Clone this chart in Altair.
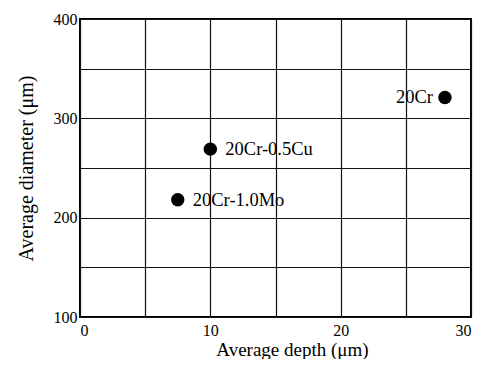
import altair as alt
import pandas as pd

alloys = ["20Cr", "20Cr-0.5Cu", "20Cr-1.0Mo"]
depth = [28.0, 10.0, 7.5]
diameter = [321, 269, 218]
label_side = ["left", "right", "right"]

df = pd.DataFrame({"alloy": alloys, "depth": depth, "diameter": diameter, "side": label_side})

FONT = "Liberation Serif"

xscale = alt.Scale(domain=[0, 30], nice=False, zero=False)
yscale = alt.Scale(domain=[100, 400], nice=False, zero=False)

xaxis = alt.Axis(values=[0, 5, 10, 15, 20, 25, 30],
                 labelExpr="datum.value % 10 == 0 ? datum.label : ''",
                 title="Average depth (μm)", grid=True, ticks=False,
                 labelPadding=5, titlePadding=2, domain=False,
                 titleX=212, titleAlign="center", titleFontSize=19)
yaxis = alt.Axis(values=[100, 150, 200, 250, 300, 350, 400],
                 labelExpr="datum.value % 100 == 0 ? datum.label : ''",
                 title="Average diameter (μm)", grid=True, ticks=False,
                 labelPadding=3, titlePadding=17, domain=False,
                 titleFontSize=20)

base = alt.Chart(df)

points = base.mark_circle(size=180, color="black", opacity=1).encode(
    x=alt.X("depth:Q", scale=xscale, axis=xaxis),
    y=alt.Y("diameter:Q", scale=yscale, axis=yaxis),
)

labels_right = base.transform_filter("datum.side == 'right'").mark_text(
    align="left", dx=15, fontSize=18.5, font=FONT, color="black"
).encode(x=alt.X("depth:Q", scale=xscale), y=alt.Y("diameter:Q", scale=yscale), text="alloy:N")

labels_left = base.transform_filter("datum.side == 'left'").mark_text(
    align="right", dx=-12, fontSize=18.5, font=FONT, color="black"
).encode(x=alt.X("depth:Q", scale=xscale), y=alt.Y("diameter:Q", scale=yscale), text="alloy:N")

chart = alt.layer(points, labels_right, labels_left).properties(
    width=391, height=298,
    autosize=alt.AutoSizeParams(type="none"),
    padding={"left": 72, "top": 11, "right": 3, "bottom": 42},
    background="white",
).configure_view(
    stroke="black", strokeWidth=2
).configure_axis(
    gridColor="#111111", gridWidth=1.2, gridOpacity=1,
    labelFont=FONT, titleFont=FONT, labelFontSize=16,
    labelColor="black", titleColor="black", titleFontWeight="normal",
)

chart.save("out.html", embed_options={"renderer": "svg", "actions": False})
